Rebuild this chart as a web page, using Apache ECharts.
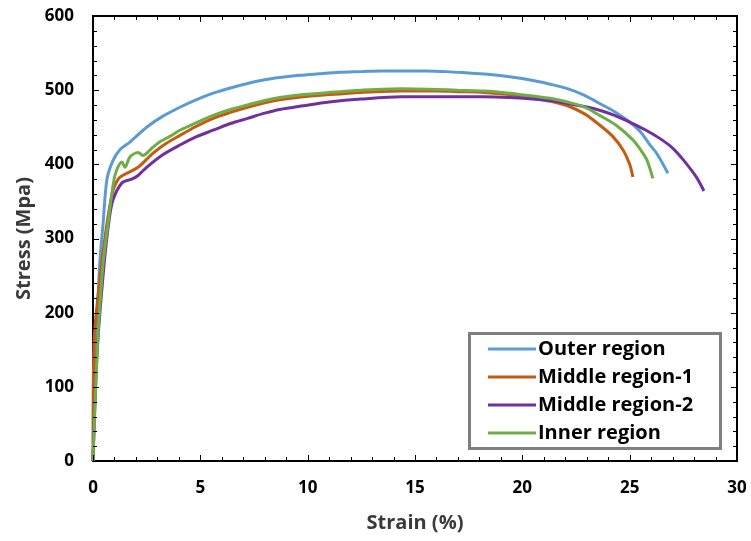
<!DOCTYPE html>
<html>
<head>
<meta charset="utf-8">
<script src="https://cdn.jsdelivr.net/npm/echarts@6/dist/echarts.min.js"></script>
<style>html,body{margin:0;padding:0;background:#fff;}#chart{width:751px;height:541px;}</style>
</head>
<body>
<div id="chart"></div>
<script>
var seriesNames = ['Outer region', 'Middle region-1', 'Middle region-2', 'Inner region'];
var xTicks = [0, 5, 10, 15, 20, 25, 30];
var yTicks = [0, 100, 200, 300, 400, 500, 600];
var minorPerMajor = 5;

var outerRegion = [[0,0],[0.15,150],[0.3,260],[0.47,320],[0.65,380],[0.93,405],[1.26,420],[1.72,430],[2.5,450],[3.2,464],[4.05,477],[4.8,487],[5.6,496],[6.4,503],[7.2,509],[8.0,514],[8.7,517],[9.6,520],[10.5,522],[11.5,524],[12.5,525],[13.4,526],[14.5,526],[15.5,526],[16.5,525],[17.5,523],[18.5,521],[19.4,518],[20.5,513],[21.3,508],[22.1,502],[22.9,493],[23.6,482],[24.3,471],[25.0,457],[25.5,444],[25.9,428],[26.3,413],[26.78,388]];
var middleRegion1 = [[0,0],[0.05,160],[0.3,240],[0.6,310],[0.9,361],[1.2,381],[1.58,388],[2.1,396],[2.8,415],[3.4,428],[4.05,439],[4.8,451],[5.6,462],[6.4,470],[7.2,477],[8.0,483],[8.7,487],[9.8,491],[11,494],[12.5,497],[14.4,499],[16,499],[17,498],[18.2,497],[19.4,494],[20.5,489],[21.3,485],[22.1,479],[22.9,468],[23.6,453],[24.2,438],[24.7,419],[25.0,400],[25.15,383]];
var middleRegion2 = [[0,0],[0.2,150],[0.5,260],[0.75,325],[0.93,352],[1.35,375],[1.8,380],[2.1,385],[2.5,396],[3.2,412],[4.05,426],[4.8,437],[5.6,446],[6.4,455],[7.2,462],[8.0,469],[8.7,474],[9.8,479],[11,484],[12.5,488],[14.4,491],[16,491],[17,491],[18.2,491],[19.4,490],[20.5,488],[21.3,486],[22.1,482],[22.9,478],[23.6,473],[24.3,466],[25.0,457],[25.7,447],[26.4,435],[27.0,422],[27.5,406],[28.1,383],[28.46,364]];
var innerRegion = [[0,0],[0.2,150],[0.45,260],[0.7,320],[0.95,375],[1.1,392],[1.35,403],[1.49,396],[1.72,410],[2.1,416],[2.33,412],[2.75,422],[3.1,430],[3.6,438],[4.05,446],[4.8,456],[5.6,466],[6.4,474],[7.2,480],[8.0,486],[8.7,490],[9.8,494],[11,497],[12.5,500],[14.4,502],[16,501],[17,500],[18.2,499],[19.4,496],[20.5,492],[21.3,489],[22.1,484],[22.9,477],[23.6,466],[24.4,452],[25.15,433],[25.5,420],[25.8,406],[26.08,381]];

var colors = ['#5B9BD5', '#C55A11', '#7030A0', '#70AD47'];
var datasets = [outerRegion, middleRegion1, middleRegion2, innerRegion];

var FONT = '"Open Sans", "Liberation Sans", sans-serif';
var xMin = xTicks[0], xMax = xTicks[xTicks.length - 1];
var yMin = yTicks[0], yMax = yTicks[yTicks.length - 1];
var MAJOR_LEN = 6, MINOR_LEN = 4;

// tick items (value positions derived from the tick arrays), kind 0 = x, 1 = y
var tickItems = [];
function addTicks(ticks, kind) {
  for (var i = 0; i < ticks.length; i++) {
    var v = ticks[i];
    tickItems.push(kind === 0 ? [v, yMin, 0, MAJOR_LEN] : [xMin, v, 1, MAJOR_LEN]);
    if (i < ticks.length - 1) {
      var step = (ticks[i + 1] - v) / minorPerMajor;
      for (var k = 1; k < minorPerMajor; k++) {
        var m = v + step * k;
        tickItems.push(kind === 0 ? [m, yMin, 0, MINOR_LEN] : [xMin, m, 1, MINOR_LEN]);
      }
    }
  }
}
addTicks(xTicks, 0);
addTicks(yTicks, 1);

function crisp(p) { return Math.round(p) + 0.5; }

var chart = echarts.init(document.getElementById('chart'));

function label() { return {fontFamily: FONT, fontWeight: 'bold', fontSize: 17, color: '#000', margin: 19}; }
function nameStyle() { return {fontFamily: FONT, fontWeight: 'bold', fontSize: 20, color: '#3a3a3a'}; }

var lineSeries = datasets.map(function (d, i) {
  return {
    name: seriesNames[i], type: 'line', data: d, smooth: 0.3,
    symbol: 'none',
    lineStyle: {width: 3, color: colors[i]},
    itemStyle: {color: colors[i]}
  };
});

var tickSeries = {
  type: 'custom',
  silent: true,
  z: 5,
  data: tickItems,
  renderItem: function (params, api) {
    var kind = api.value(2), len = api.value(3);
    var st = {stroke: '#000', lineWidth: 1};
    var p0, p1;
    if (kind === 0) {
      var xv = api.value(0);
      p0 = api.coord([xv, yMin]);
      p1 = api.coord([xv, yMax]);
      var x = crisp(p0[0]);
      return {type: 'group', children: [
        {type: 'line', shape: {x1: x, y1: p0[1], x2: x, y2: p0[1] - len}, style: st},
        {type: 'line', shape: {x1: x, y1: p1[1], x2: x, y2: p1[1] + len}, style: st}
      ]};
    } else {
      var yv = api.value(1);
      p0 = api.coord([xMin, yv]);
      p1 = api.coord([xMax, yv]);
      var y = crisp(p0[1]);
      return {type: 'group', children: [
        {type: 'line', shape: {x1: p0[0], y1: y, x2: p0[0] + len, y2: y}, style: st},
        {type: 'line', shape: {x1: p1[0], y1: y, x2: p1[0] - len, y2: y}, style: st}
      ]};
    }
  }
};

var option = {
  animation: false,
  grid: {left: 93, right: 14, top: 16, bottom: 80, show: true, borderColor: '#000', borderWidth: 2, backgroundColor: 'transparent'},
  xAxis: {type: 'value', min: xMin, max: xMax, interval: 5,
    name: 'Strain (%)', nameLocation: 'middle', nameGap: 52, nameTextStyle: nameStyle(),
    axisLine: {show: true, lineStyle: {color: '#000', width: 2}},
    axisTick: {show: false}, minorTick: {show: false}, splitLine: {show: false},
    axisLabel: label()},
  yAxis: {type: 'value', min: yMin, max: yMax, interval: 100,
    name: 'Stress (Mpa)', nameLocation: 'middle', nameGap: 53, nameTextStyle: nameStyle(),
    axisLine: {show: true, lineStyle: {color: '#000', width: 2}},
    axisTick: {show: false}, minorTick: {show: false}, splitLine: {show: false},
    axisLabel: label()},
  legend: {
    orient: 'vertical',
    left: 483, top: 334,
    itemWidth: 48, itemHeight: 14, itemGap: 8,
    data: seriesNames.map(function (n) {
      return {name: n, icon: 'path://M0,6L48,6L48,9L0,9Z'};
    }),
    textStyle: {fontFamily: FONT, fontWeight: 'bold', fontSize: 20, color: '#000', padding: [0,0,0,-3]}
  },
  graphic: [{
    type: 'rect', left: 467, top: 331, z: 100, silent: true,
    shape: {width: 251, height: 115},
    style: {fill: 'none', stroke: '#7F7F7F', lineWidth: 3}
  }],
  series: lineSeries.concat([tickSeries])
};
chart.setOption(option);
</script>
</body>
</html>
